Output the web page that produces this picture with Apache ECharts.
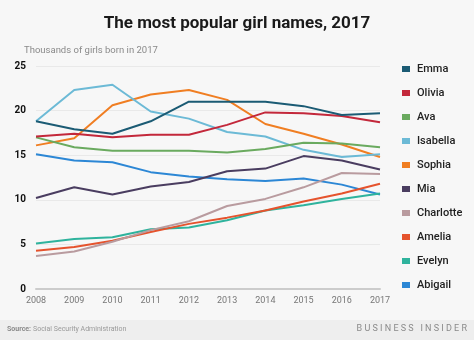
<!DOCTYPE html>
<html>
<head>
<meta charset="utf-8">
<script src="https://cdn.jsdelivr.net/npm/echarts@6/dist/echarts.min.js"></script>
<style>
  html, body { margin: 0; padding: 0; background: #f7f7f7; }
  #chart { width: 474px; height: 340px; }
</style>
</head>
<body>
<div id="chart"></div>
<script>
// Births per year, in thousands (Social Security Administration)
const years = ['2008', '2009', '2010', '2011', '2012', '2013', '2014', '2015', '2016', '2017'];
const yTicks = [0, 5, 10, 15, 20, 25];

const emma      = [18.8, 17.9, 17.4, 18.8, 21.0, 21.0, 21.0, 20.5, 19.5, 19.7];
const olivia    = [17.1, 17.4, 17.0, 17.3, 17.3, 18.4, 19.8, 19.7, 19.4, 18.7];
const ava       = [17.0, 15.9, 15.5, 15.5, 15.5, 15.3, 15.7, 16.4, 16.3, 15.9];
const isabella  = [18.8, 22.3, 22.9, 19.9, 19.1, 17.6, 17.1, 15.6, 14.8, 15.1];
const sophia    = [16.1, 16.9, 20.6, 21.8, 22.3, 21.2, 18.5, 17.4, 16.2, 14.8];
const mia       = [10.2, 11.4, 10.6, 11.5, 12.0, 13.2, 13.5, 14.9, 14.4, 13.4];
const charlotte = [3.7, 4.2, 5.3, 6.6, 7.6, 9.3, 10.1, 11.4, 13.0, 12.9];
const amelia    = [4.3, 4.7, 5.4, 6.4, 7.3, 8.0, 8.8, 9.8, 10.7, 11.8];
const evelyn    = [5.1, 5.6, 5.8, 6.7, 6.9, 7.7, 8.8, 9.4, 10.1, 10.7];
const abigail   = [15.1, 14.4, 14.2, 13.1, 12.6, 12.3, 12.1, 12.4, 11.7, 10.6];

const names = ['Emma', 'Olivia', 'Ava', 'Isabella', 'Sophia', 'Mia', 'Charlotte', 'Amelia', 'Evelyn', 'Abigail'];
const values = [emma, olivia, ava, isabella, sophia, mia, charlotte, amelia, evelyn, abigail];
const colors = ['#1b5b74', '#c3283b', '#6aaa5f', '#6cbad6', '#f07e22', '#4a3d60', '#b99b9f', '#e5532d', '#2fb39d', '#2c87d5'];

const chart = echarts.init(document.getElementById('chart'), null, { renderer: 'canvas' });

chart.setOption({
  backgroundColor: '#f7f7f7',
  animation: false,
  color: colors,
  textStyle: { fontFamily: 'Roboto' },
  title: [
    {
      text: 'The most popular girl names, 2017',
      left: 'center', top: 10,
      textStyle: { fontFamily: 'Roboto', fontSize: 17, fontWeight: 'bold', color: '#1a1a1a' }
    },
    {
      text: 'Thousands of girls born in 2017',
      left: 19, top: 41,
      textStyle: { fontFamily: 'Roboto', fontSize: 9.5, fontWeight: 'normal', color: '#8a8a8a' }
    }
  ],
  graphic: [
    { type: 'rect', left: 0, top: 320, shape: { width: 474, height: 20 }, style: { fill: '#eeeeee' }, silent: true },
    { type: 'text', left: 7, top: 326, style: { text: 'Source:', font: 'bold 7px Roboto', fill: '#8a8a8a' } },
    { type: 'text', left: 33, top: 326, style: { text: 'Social Security Administration', font: '7px Roboto', fill: '#9a9a9a' } },
    { type: 'text', right: 7, top: 324, style: { text: 'B U S I N E S S   I N S I D E R', font: '9px Roboto', fill: '#8a8a8a' } }
  ],
  legend: {
    orient: 'vertical',
    left: 397, top: 57,
    itemWidth: 8, itemHeight: 6, itemGap: 10,
    icon: 'rect',
    data: names,
    textStyle: { fontFamily: 'Roboto', fontSize: 11, fontWeight: 500, color: '#222', lineHeight: 14, padding: [0, 0, 0, 2] }
  },
  grid: { left: 36, right: 94, top: 66, bottom: 51, containLabel: false },
  xAxis: {
    type: 'category',
    data: years,
    boundaryGap: false,
    axisLine: { show: true, lineStyle: { color: '#cccccc', width: 2 } },
    axisTick: { show: false },
    axisLabel: { color: '#777', fontSize: 9, margin: 7 },
    splitLine: { show: false }
  },
  yAxis: {
    type: 'value',
    min: yTicks[0], max: yTicks[yTicks.length - 1], interval: 5,
    axisLine: { show: false },
    axisTick: { show: false },
    axisLabel: { color: '#111', fontSize: 10, fontWeight: 'bold', margin: 10 },
    splitLine: { lineStyle: { color: '#e9e9e9', width: 1 } }
  },
  series: names.map((n, i) => ({
    name: n,
    type: 'line',
    data: values[i],
    showSymbol: false,
    symbol: 'none',
    lineStyle: { width: 2 },
    z: 10 - i
  }))
});
</script>
</body>
</html>
